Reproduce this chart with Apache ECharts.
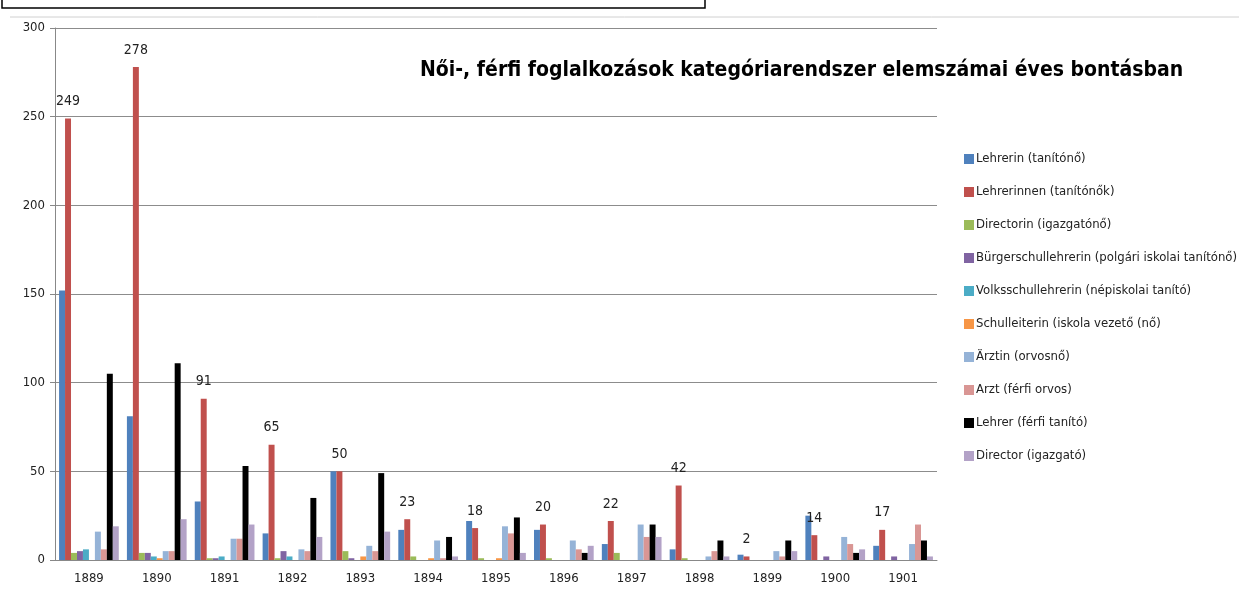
<!DOCTYPE html>
<html>
<head>
<meta charset="utf-8">
<script src="https://cdn.jsdelivr.net/npm/echarts@6/dist/echarts.min.js"></script>
<style>
  body { margin: 0; background: #fff; }
  #main { width: 1239px; height: 597px; }
</style>
</head>
<body>
<div id="main"></div>
<script>
const years = ['1889', '1890', '1891', '1892', '1893', '1894', '1895', '1896', '1897', '1898', '1899', '1900', '1901']

const lehrerin = [152, 81, 33, 15, 50, 17, 22, 17, 9, 6, 3, 25, 8]
const lehrerinnen = [249, 278, 91, 65, 50, 23, 18, 20, 22, 42, 2, 14, 17]
const directorin = [4, 4, 1, 1, 5, 2, 1, 1, 4, 1, 0, 0, 0]
const buergerschul = [5, 4, 1, 5, 1, 0, 0, 0, 0, 0, 0, 2, 2]
const volksschul = [6, 2, 2, 2, 0, 0, 0, 0, 0, 0, 0, 0, 0]
const schulleiterin = [0, 1, 0, 0, 2, 1, 1, 0, 0, 0, 0, 0, 0]
const aerztin = [16, 5, 12, 6, 8, 11, 19, 11, 20, 2, 5, 13, 9]
const arzt = [6, 5, 12, 5, 5, 1, 15, 6, 13, 5, 2, 9, 20]
const lehrer = [105, 111, 53, 35, 49, 13, 24, 4, 20, 11, 11, 4, 11]
const director = [19, 23, 20, 13, 16, 2, 4, 8, 13, 2, 5, 6, 2]

const names = [
  'Lehrerin (tanítónő)',
  'Lehrerinnen (tanítónők)',
  'Directorin (igazgatónő)',
  'Bürgerschullehrerin (polgári iskolai tanítónő)',
  'Volksschullehrerin (népiskolai tanító)',
  'Schulleiterin (iskola vezető (nő)',
  'Ärztin (orvosnő)',
  'Arzt (férfi orvos)',
  'Lehrer (férfi tanító)',
  'Director (igazgató)'
]
const values = [lehrerin, lehrerinnen, directorin, buergerschul, volksschul, schulleiterin, aerztin, arzt, lehrer, director]
const colors = ['#4F81BD', '#C0504D', '#9BBB59', '#8064A2', '#4BACC6', '#F79646', '#95B3D7', '#D99694', '#000000', '#B3A2C7']

const font = "'DejaVu Sans Condensed', sans-serif"

let series = names.map((n, i) => {
  let s = {
    name: n,
    type: 'bar',
    data: values[i],
    barGap: '0%',
    barCategoryGap: '12%',
    itemStyle: { color: colors[i] }
  }
  // only the second series has labels in the original
  if (i === 1) {
    s.label = {
      show: true,
      position: 'top',
      color: '#222',
      fontFamily: font,
      fontSize: 14,
      distance: 10
    }
  }
  return s
})

let option = {
  animation: false,
  color: colors,
  title: {
    text: 'Női-, férfi foglalkozások kategóriarendszer elemszámai éves bontásban',
    left: 415,
    top: 55,
    textStyle: {
      fontFamily: font,
      fontSize: 21,
      fontWeight: 'bold',
      color: '#000'
    }
  },
  legend: {
    orient: 'vertical',
    left: 959,
    top: 147,
    itemWidth: 10,
    itemHeight: 10,
    itemGap: 19,
    icon: 'rect',
    textStyle: {
      fontFamily: font,
      fontSize: 13,
      lineHeight: 14,
      color: '#222',
      padding: [0, 0, 0, -3]
    }
  },
  grid: {
    left: 55,
    top: 28,
    width: 882,
    bottom: 37
  },
  xAxis: {
    type: 'category',
    data: years,
    axisLine: { lineStyle: { color: '#888' } },
    axisTick: { length: 6, lineStyle: { color: '#888' } },
    axisLabel: { color: '#222', fontFamily: font, fontSize: 13, margin: 12 }
  },
  yAxis: {
    type: 'value',
    min: 0,
    max: 300,
    interval: 50,
    axisLine: { show: true, lineStyle: { color: '#888' } },
    axisTick: { show: true, length: 5, lineStyle: { color: '#888' } },
    axisLabel: { color: '#222', fontFamily: font, fontSize: 13, margin: 10 },
    splitLine: { lineStyle: { color: '#8c8c8c' } }
  },
  graphic: [
    {
      type: 'rect',
      shape: { x: 2, y: -4, width: 703, height: 12 },
      style: { fill: 'none', stroke: '#000', lineWidth: 1.5 }
    },
    {
      type: 'line',
      shape: { x1: 10, y1: 17, x2: 1239, y2: 17 },
      style: { stroke: '#d0d0d0', lineWidth: 1 }
    }
  ],
  series: series
}

let myChart = echarts.init(document.getElementById('main'))
myChart.setOption(option)
</script>
</body>
</html>
